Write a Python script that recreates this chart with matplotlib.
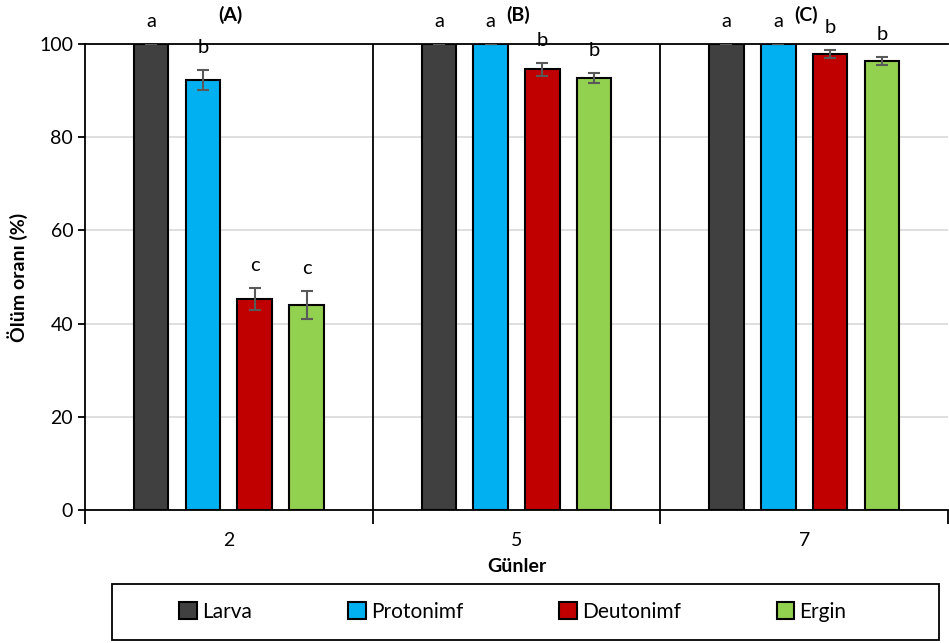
import numpy as np
import matplotlib
matplotlib.use("Agg")
import matplotlib.pyplot as plt
from matplotlib.patches import Rectangle

plt.rcParams['font.family'] = ['Lato', 'DejaVu Sans']

# mortality (%) by day and stage
days = ['2', '5', '7']
panels = ['(A)', '(B)', '(C)']
stages = ['Larva', 'Protonimf', 'Deutonimf', 'Ergin']
colors = ['#404040', '#00B0F0', '#C00000', '#92D050']

larva = [100.0, 100.0, 100.0]
protonimf = [92.3, 100.0, 100.0]
deutonimf = [45.3, 94.6, 97.8]
ergin = [44.0, 92.7, 96.4]

larva_err = [0.0, 0.0, 0.0]
protonimf_err = [2.2, 0.0, 0.0]
deutonimf_err = [2.3, 1.4, 0.9]
ergin_err = [3.0, 1.0, 0.9]

letters = [['a', 'b', 'c', 'c'],
           ['a', 'a', 'b', 'b'],
           ['a', 'a', 'b', 'b']]

values = [larva, protonimf, deutonimf, ergin]
errors = [larva_err, protonimf_err, deutonimf_err, ergin_err]

fig = plt.figure(figsize=(9.49, 6.43), dpi=100)
ax = fig.add_axes([85/949, 1 - 510/643, 863/949, 466/643])

x = np.arange(len(days))
width = 0.12
step = 0.18
offsets = (np.arange(len(stages)) - 1.5) * step

for i, st in enumerate(stages):
    xs = x + offsets[i]
    ax.bar(xs, values[i], width, color=colors[i], edgecolor='black',
           linewidth=1.5, label=st, zorder=3)
    ax.errorbar(xs, values[i], yerr=errors[i], fmt='none', ecolor='#595959',
                elinewidth=1.5, capsize=4, capthick=1.5, zorder=4)
    for j in range(len(days)):
        ax.text(xs[j], values[i][j] + errors[i][j] + 3.0, letters[j][i],
                ha='center', va='bottom', fontsize=14.5)

for j, p in enumerate(panels):
    ax.text(x[j] + 0.005, 104.3, p, ha='center', va='bottom',
            fontsize=14, fontweight='bold')

ax.set_xlim(-0.5, 2.5)
ax.set_ylim(0, 100)
ax.set_yticks(np.arange(0, 101, 20))
ax.yaxis.grid(True, color='#d9d9d9', linewidth=1.2, zorder=0)
ax.set_axisbelow(True)

# group separators
for b in [0.5, 1.5]:
    ax.axvline(b, color='black', linewidth=1.3, zorder=2)

ax.set_xticks(x)
ax.set_xticklabels(days, fontsize=14)
ax.set_xticks([-0.5, 0.5, 1.5, 2.5], minor=True)
ax.tick_params(axis='x', which='major', length=0, pad=16)
ax.tick_params(axis='x', which='minor', length=10, width=1.3, direction='out')
ax.tick_params(axis='y', length=5, width=1.3, labelsize=14)

ax.spines['right'].set_visible(False)
for s in ['left', 'bottom', 'top']:
    ax.spines[s].set_linewidth(1.3)
    ax.spines[s].set_color('black')

ax.set_ylabel('Ölüm oranı (%)', fontsize=14, fontweight='bold', labelpad=8)
ax.set_xlabel('Günler', fontsize=14, fontweight='bold', labelpad=6)

# legend inside a framed box below the axes
fig.patches.append(Rectangle((112/949, 3/643), 827/949, 56/643,
                             transform=fig.transFigure, fill=False,
                             edgecolor='black', linewidth=1.3))
fig.legend(loc='center', bbox_to_anchor=(513/949, 1 - 612/643), ncol=4,
           frameon=False, fontsize=15, handlelength=0.85, handleheight=0.85,
           handletextpad=0.25, columnspacing=4.6)

fig.savefig('out.png', dpi=100)
